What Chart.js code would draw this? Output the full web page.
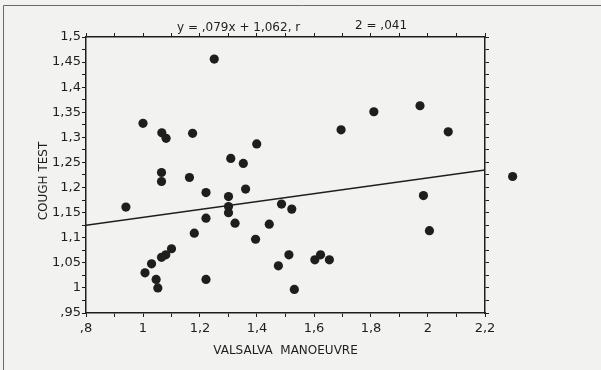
<!DOCTYPE html>
<html>
<head>
<meta charset="utf-8">
<script src="https://cdn.jsdelivr.net/npm/chart.js@4"></script>
<style>
  body { margin: 0; background: #f2f2f0; }
  canvas { display: block; }
</style>
</head>
<body>
<canvas id="chart" width="601" height="370"></canvas>
<script>
// values
const valsalva = [1.25, 1.0, 1.066, 1.081, 1.174, 1.308, 1.352, 1.399, 1.695, 1.81, 1.972, 2.071,
  1.065, 1.065, 1.163, 0.94, 1.221, 1.3, 1.3, 1.3, 1.221, 1.18, 1.1, 1.08, 1.065, 1.03, 1.007,
  1.046, 1.052, 1.221, 1.36, 1.323, 1.486, 1.522, 1.443, 1.395, 1.512, 1.475, 1.603, 1.623,
  1.654, 1.531, 2.297, 1.984, 2.005];
const cough = [1.456, 1.328, 1.309, 1.298, 1.308, 1.258, 1.248, 1.287, 1.315, 1.351, 1.363, 1.311,
  1.23, 1.212, 1.22, 1.161, 1.19, 1.182, 1.162, 1.15, 1.139, 1.109, 1.078, 1.066, 1.061, 1.048, 1.03,
  1.017, 1.0, 1.017, 1.197, 1.129, 1.167, 1.157, 1.127, 1.097, 1.066, 1.044, 1.056, 1.066,
  1.056, 0.997, 1.222, 1.184, 1.114];

const fitX = [0.8, 2.2];
const fitY = [1.125, 1.235];

const xTickValues = [0.8, 1.0, 1.2, 1.4, 1.6, 1.8, 2.0, 2.2];
const xTickLabels = [",8", "1", "1,2", "1,4", "1,6", "1,8", "2", "2,2"];
const yTickValues = [0.95, 1.0, 1.05, 1.1, 1.15, 1.2, 1.25, 1.3, 1.35, 1.4, 1.45, 1.5];
const yTickLabels = [",95", "1", "1,05", "1,1", "1,15", "1,2", "1,25", "1,3", "1,35", "1,4", "1,45", "1,5"];

const titleLeft = "y = ,079x + 1,062, r";
const titleRight = "2 = ,041";
const xTitle = "VALSALVA  MANOEUVRE";
const yTitle = "COUGH TEST";

const ink = "#1e1e1e";
const font = "DejaVu Sans";

function lookup(values, labels, v) {
  const i = values.findIndex(t => Math.abs(t - v) < 1e-6);
  return i < 0 ? "" : labels[i];
}

const points = valsalva.map((x, i) => ({ x: x, y: cough[i] }));
const fitLine = fitX.map((x, i) => ({ x: x, y: fitY[i] }));

function axisGrid() {
  return { drawOnChartArea: false, drawTicks: true, tickLength: 4, color: ink, lineWidth: 1 };
}

// chart.js skips points outside the chart area, the scan has one past x = 2,2
const outsidePoints = {
  id: "outsidePoints",
  afterDatasetsDraw(chart) {
    const a = chart.chartArea;
    const all = { left: 0, top: 0, right: chart.width, bottom: chart.height };
    chart.getDatasetMeta(0).data.forEach(el => {
      if (el.x > a.right || el.x < a.left || el.y < a.top || el.y > a.bottom) {
        el.draw(chart.ctx, all);
      }
    });
  }
};

const textPlugin = {
  id: "texts",
  afterDraw(chart) {
    const ctx = chart.ctx;
    const a = chart.chartArea;
    ctx.save();
    // frame of the scanned figure
    ctx.strokeStyle = "#6a6a6a";
    ctx.lineWidth = 1;
    ctx.beginPath();
    ctx.moveTo(3.5, chart.height);
    ctx.lineTo(3.5, 5.5);
    ctx.lineTo(chart.width, 5.5);
    ctx.stroke();

    ctx.fillStyle = ink;
    ctx.font = "12px " + font;
    ctx.textBaseline = "middle";
    ctx.textAlign = "left";
    ctx.fillText(titleLeft, 177, 28);
    ctx.fillText(titleRight, 355, 26);
    ctx.textAlign = "center";
    ctx.fillText(xTitle, (a.left + a.right) / 2, 351);
    ctx.translate(44, (a.top + a.bottom) / 2 + 6);
    ctx.rotate(-Math.PI / 2);
    ctx.fillText(yTitle, 0, 0);
    ctx.restore();
  }
};

new Chart(document.getElementById("chart"), {
  type: "scatter",
  data: {
    datasets: [
      {
        data: points,
        backgroundColor: ink,
        borderWidth: 0,
        pointRadius: 4.6,
        clip: false
      },
      {
        type: "line",
        data: fitLine,
        borderColor: ink,
        borderWidth: 1.5,
        pointRadius: 0,
        fill: false
      }
    ]
  },
  options: {
    responsive: false,
    animation: false,
    layout: { padding: 0 },
    plugins: {
      legend: { display: false },
      tooltip: { enabled: false }
    },
    scales: {
      x: {
        type: "linear",
        position: "bottom",
        min: 0.8,
        max: 2.2,
        grid: axisGrid(),
        border: { color: ink, width: 1.5 },
        ticks: {
          stepSize: 0.1,
          autoSkip: false,
          maxRotation: 0,
          color: ink,
          font: { family: font, size: 13 },
          padding: 4,
          callback: v => lookup(xTickValues, xTickLabels, v)
        },
        afterFit: s => { s.height = 57; }
      },
      x2: {
        type: "linear",
        position: "top",
        display: true,
        min: 0.8,
        max: 2.2,
        grid: axisGrid(),
        border: { color: ink, width: 1.5 },
        ticks: { stepSize: 0.1, autoSkip: false, callback: () => "" },
        afterFit: s => { s.height = 37; }
      },
      y: {
        type: "linear",
        position: "left",
        min: 0.95,
        max: 1.5,
        grid: axisGrid(),
        border: { color: ink, width: 1.5 },
        ticks: {
          stepSize: 0.025,
          autoSkip: false,
          color: ink,
          font: { family: font, size: 13 },
          padding: 1,
          callback: v => lookup(yTickValues, yTickLabels, v)
        },
        afterFit: s => { s.width = 86; }
      },
      y2: {
        type: "linear",
        position: "right",
        display: true,
        min: 0.95,
        max: 1.5,
        grid: axisGrid(),
        border: { color: ink, width: 1.5 },
        ticks: { stepSize: 0.025, autoSkip: false, callback: () => "" },
        afterFit: s => { s.width = 116; }
      }
    }
  },
  plugins: [outsidePoints, textPlugin]
});
</script>
</body>
</html>
